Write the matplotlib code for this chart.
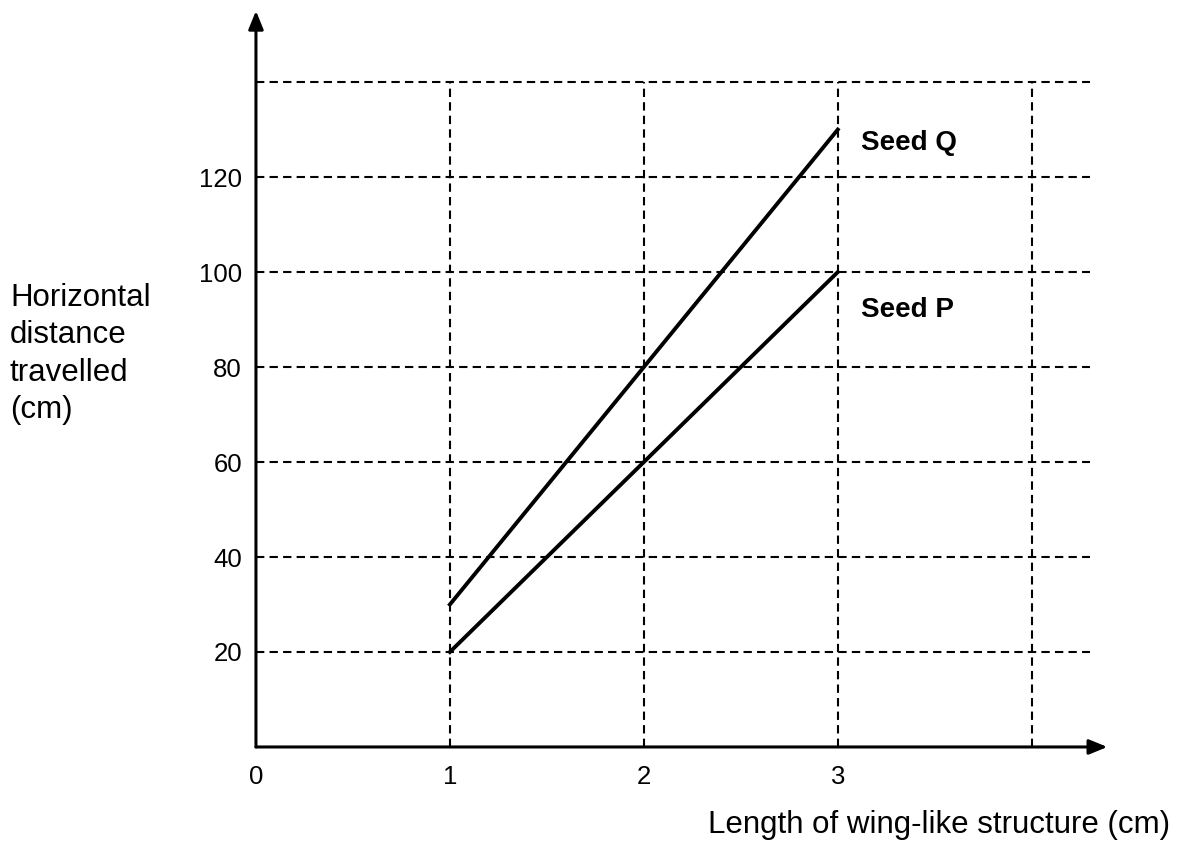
import matplotlib
matplotlib.use('Agg')
import matplotlib.pyplot as plt

plt.rcParams['font.family'] = ['Liberation Sans', 'DejaVu Sans']

# data
wing_len = [1, 2, 3]
seed_q = [30, 80, 130]
seed_p = [20, 60, 100]

x_ticks = [0, 1, 2, 3]
y_ticks = [20, 40, 60, 80, 100, 120]
grid_x = [1, 2, 3, 4]
grid_y = [20, 40, 60, 80, 100, 120, 140]

fig = plt.figure(figsize=(11.79, 8.58), dpi=100)
ax = fig.add_axes([0.2171, 0.1294, 0.732, 0.869])
ax.set_xlim(0, 4.45)
ax.set_ylim(0, 157)
for s in ax.spines.values():
    s.set_visible(False)

# dashed grid
dash = (0, (4, 2.5))
for gy in grid_y:
    ax.plot([0, 4.3], [gy, gy], color='black', lw=1.5, ls=dash, zorder=1)
for gx in grid_x:
    ax.plot([gx, gx], [0, grid_y[-1]], color='black', lw=1.5, ls=dash, zorder=1)

# axes with arrow heads
arrow = dict(arrowstyle='-|>,head_length=1.1,head_width=0.45', color='black',
             lw=2.2, shrinkA=0, shrinkB=0)
ax.annotate('', xy=(4.39, 0), xytext=(0, 0), arrowprops=arrow, zorder=3)
ax.annotate('', xy=(0, 155), xytext=(0, 0), arrowprops=arrow, zorder=3)

# data lines
ax.plot(wing_len, seed_q, color='black', lw=2.8, zorder=4)
ax.plot(wing_len, seed_p, color='black', lw=2.8, zorder=4)
ax.text(3.12, seed_q[-1] - 2.8, 'Seed Q', fontsize=20, fontweight='bold',
        ha='left', va='center')
ax.text(3.12, seed_p[-1] - 8, 'Seed P', fontsize=20, fontweight='bold',
        ha='left', va='center')

ax.set_xticks(x_ticks)
ax.set_xticklabels([str(v) for v in x_ticks])
ax.set_yticks(y_ticks)
ax.set_yticklabels([str(v) for v in y_ticks])
ax.tick_params(axis='x', length=0, pad=13, labelsize=18.5)
ax.tick_params(axis='y', length=0, pad=10, labelsize=18.5)

fig.text(10 / 1179, 1 - 354 / 858, 'Horizontal\ndistance\ntravelled\n(cm)',
         fontsize=22.5, ha='left', va='center', linespacing=1.32)
fig.text(1170 / 1179, 1 - 825 / 858, 'Length of wing-like structure (cm)',
         fontsize=22.5, ha='right', va='center')

plt.savefig('out.png', dpi=100)
plt.close()
